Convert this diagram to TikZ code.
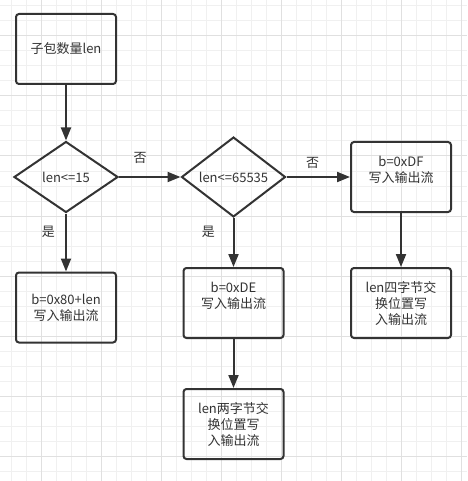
\documentclass[tikz,border=0pt]{standalone}
\usepackage{fontspec}
\setmainfont{Noto Sans CJK SC}
\usetikzlibrary{arrows.meta,shapes.geometric}
\definecolor{ink}{HTML}{333333}
\definecolor{gridminor}{HTML}{F0F0F0}
\definecolor{gridmajor}{HTML}{E0E0E0}
\begin{document}
\begin{tikzpicture}[x=1pt,y=-1pt,
  txt/.style={text=ink,font=\fontsize{13}{16}\selectfont},
  box/.style={txt,draw=ink,line width=2pt,rounded corners=3pt,minimum width=100pt,minimum height=70pt,align=center,inner sep=0pt},
  dec/.style={txt,draw=ink,line width=2pt,diamond,minimum width=104pt,minimum height=71pt,inner sep=0pt},
  arr/.style={draw=ink,line width=2pt,-{Triangle[length=13pt,width=10pt]}},
  lbl/.style={txt,inner sep=0pt}]
\useasboundingbox (0,0) rectangle (467,481);
\fill[white] (0,0) rectangle (467,481);
% grid
\foreach \x in {11.7,26.7,...,466} \draw[gridminor,line width=1pt] (\x,0) -- (\x,481);
\foreach \y in {6,21,...,480} \draw[gridminor,line width=1pt] (0,\y) -- (467,\y);
\foreach \x in {41.7,101.7,...,466} \draw[gridmajor,line width=1pt] (\x,0) -- (\x,481);
\foreach \y in {36,96,...,480} \draw[gridmajor,line width=1pt] (0,\y) -- (467,\y);
% nodes
\node[box] (start) at (66,49) {子包数量len};
\node[dec] (d1) at (66,177) {len<=15};
\node[dec] (d2) at (233.5,177) {len<=65535};
\node[box] (bdf) at (401,177) {b=0xDF\\写入输出流\\\mbox{}};
\node[box] (b80) at (66,307.5) {b=0x80+len\\写入输出流};
\node[box] (bde) at (233.5,303) {b=0xDE\\写入输出流\\\mbox{}};
\node[box] (b4) at (401,303) {len四字节交\\换位置写\\入输出流};
\node[box] (b2) at (233.5,424) {len两字节交\\换位置写\\入输出流};
% labels
\node[lbl] (n1) at (140,157.5) {否};
\node[lbl] (n2) at (312.7,162.5) {否};
\node[lbl] (y1) at (48.3,231.7) {是};
\node[lbl] (y2) at (208.3,231.7) {是};
% connectors
\draw[arr] (start) -- (d1);
\draw[arr] (d1) -- (d2);
\draw[arr] (d2) -- (bdf);
\draw[arr] (d1) -- (b80);
\draw[arr] (d2) -- (bde);
\draw[arr] (bdf) -- (b4);
\draw[arr] (bde) -- (b2);
\end{tikzpicture}
\end{document}
